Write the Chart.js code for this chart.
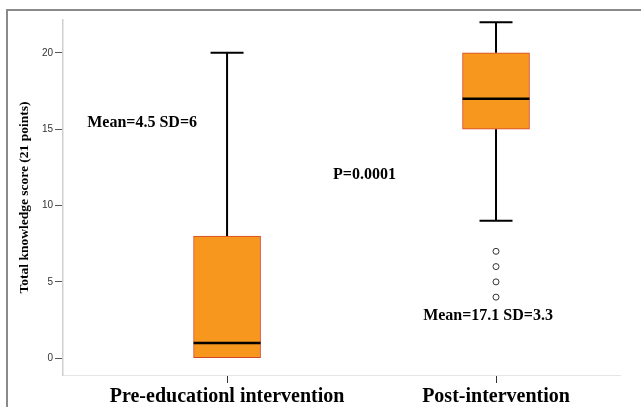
<!DOCTYPE html>
<html>
<head>
<meta charset="utf-8">
<script src="https://cdn.jsdelivr.net/npm/chart.js@4"></script>
<style>
  html, body { margin: 0; padding: 0; background: #fff; }
  #wrap { width: 641px; height: 407px; position: relative; }
</style>
</head>
<body>
<div id="wrap"><canvas id="canvas"></canvas></div>
<script>
"use strict";
// box plot values
const categories = ['Pre-educationl intervention', 'Post-intervention'];
const positions = [1, 2];
const whiskerMin = [0, 9];
const q1 = [0, 15];
const median = [1, 17];
const q3 = [8, 20];
const whiskerMax = [20, 22];
const outliers = [[], [7, 6, 5, 4]];
const yTicks = [0, 5, 10, 15, 20];
const notes = ['Mean=4.5 SD=6', 'P=0.0001', 'Mean=17.1 SD=3.3'];
const noteAt = [[0.48, 15.4], [1.394, 12.0], [1.729, 2.8]];

const outlierPoints = [];
outliers.forEach(function(list, i){
  list.forEach(function(v){ outlierPoints.push({x: positions[i], y: v}); });
});

const boxExtras = {
  id: 'boxExtras',
  beforeDraw: function(chart){
    const c = chart.ctx;
    c.save();
    c.fillStyle = '#8a8a8a';
    c.fillRect(6, 9, 641 - 6, 2);
    c.fillRect(6, 9, 2, 407 - 9);
    c.restore();
  },
  afterDatasetsDraw: function(chart){
    const c = chart.ctx;
    const xs = chart.scales.x, ys = chart.scales.y;
    const half = 33;
    c.save();
    c.strokeStyle = '#000';
    positions.forEach(function(p, i){
      const cx = xs.getPixelForValue(p);
      // whiskers
      c.lineWidth = 2;
      c.beginPath();
      c.moveTo(cx, ys.getPixelForValue(q3[i]));
      c.lineTo(cx, ys.getPixelForValue(whiskerMax[i]));
      c.moveTo(cx, ys.getPixelForValue(q1[i]));
      c.lineTo(cx, ys.getPixelForValue(whiskerMin[i]));
      c.moveTo(cx - half / 2, ys.getPixelForValue(whiskerMax[i]));
      c.lineTo(cx + half / 2, ys.getPixelForValue(whiskerMax[i]));
      if (whiskerMin[i] !== q1[i]) {
        c.moveTo(cx - half / 2, ys.getPixelForValue(whiskerMin[i]));
        c.lineTo(cx + half / 2, ys.getPixelForValue(whiskerMin[i]));
      }
      c.stroke();
      // median
      c.lineWidth = 2.5;
      c.beginPath();
      c.moveTo(cx - half - 0.5, ys.getPixelForValue(median[i]));
      c.lineTo(cx + half + 0.5, ys.getPixelForValue(median[i]));
      c.stroke();
    });
    c.fillStyle = '#000';
    c.font = 'bold 16px "Liberation Serif"';
    c.textAlign = 'left';
    c.textBaseline = 'middle';
    notes.forEach(function(t, i){
      c.fillText(t, xs.getPixelForValue(noteAt[i][0]), ys.getPixelForValue(noteAt[i][1]));
    });
    c.restore();
  }
};

const ctx = document.getElementById('canvas');

new Chart(ctx, {
  type: 'bar',
  data: {
    datasets: [{
      data: positions.map(function(p, i){ return {x: p, y: [q1[i], q3[i]]}; }),
      backgroundColor: '#f7971e',
      borderColor: '#d4452a',
      borderWidth: 1,
      borderSkipped: false,
      barThickness: 67,
      order: 2
    }, {
      type: 'scatter',
      data: outlierPoints,
      pointStyle: 'circle',
      pointRadius: 3,
      backgroundColor: '#fff',
      borderColor: '#333',
      borderWidth: 1,
      order: 1
    }]
  },
  options: {
    responsive: true,
    maintainAspectRatio: false,
    animation: false,
    layout: { padding: { top: 20, right: 21, left: 0, bottom: 0 } },
    plugins: {
      legend: { display: false },
      tooltip: { enabled: false }
    },
    scales: {
      x: {
        type: 'linear',
        offset: false,
        min: 0.39,
        max: 2.461,
        afterBuildTicks: function(scale){
          scale.ticks = positions.map(function(p){ return {value: p}; });
        },
        afterFit: function(scale){ scale.height = 32; },
        ticks: {
          callback: function(v){ return categories[positions.indexOf(v)]; },
          font: { family: 'Liberation Serif', size: 20, weight: 'bold' },
          color: '#000',
          padding: 2,
          maxRotation: 0,
          autoSkip: false
        },
        grid: { offset: false, drawOnChartArea: false, tickLength: 8, tickColor: '#333' },
        border: { color: '#e6e6e6', width: 1 }
      },
      y: {
        min: -1.1,
        max: 22.15,
        afterBuildTicks: function(scale){
          scale.ticks = yTicks.map(function(v){ return {value: v}; });
        },
        afterFit: function(scale){ scale.width = 63; },
        ticks: {
          font: { family: 'Liberation Sans', size: 10 },
          color: '#333',
          padding: 2
        },
        grid: { drawOnChartArea: false, tickLength: 8, tickColor: '#555' },
        border: { color: '#cfcfcf', width: 1.5 },
        title: {
          display: true,
          text: 'Total knowledge score (21 points)',
          font: { family: 'Liberation Serif', size: 13.5, weight: 'bold' },
          color: '#000',
          padding: { top: 16, bottom: 0 }
        }
      }
    }
  },
  plugins: [boxExtras]
});
</script>
</body>
</html>
